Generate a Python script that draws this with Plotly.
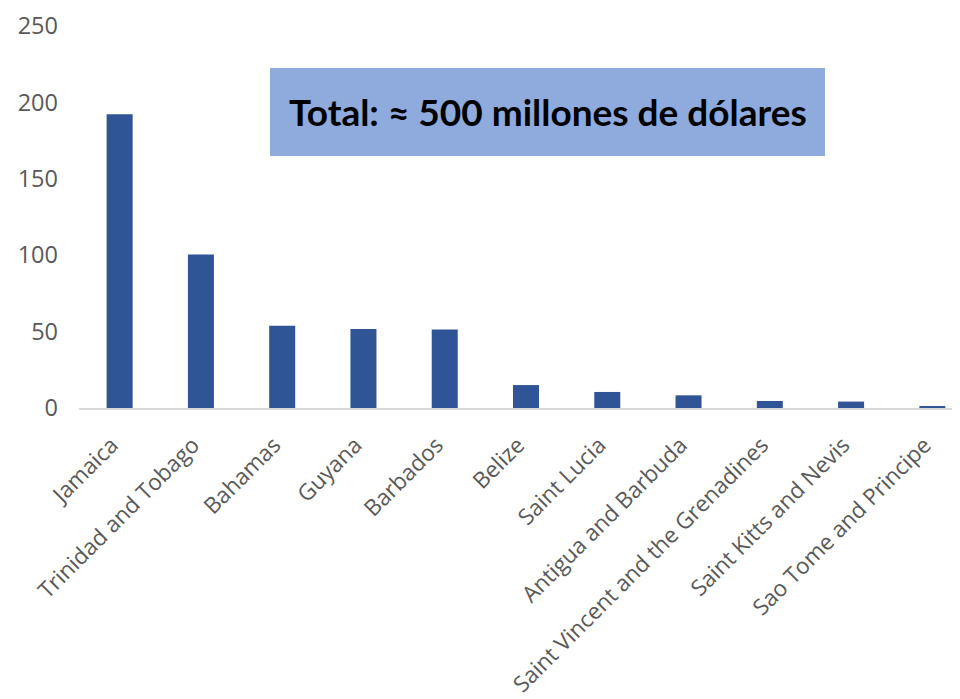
import plotly.graph_objects as go

countries = ["Jamaica", "Trinidad and Tobago", "Bahamas", "Guyana", "Barbados", "Belize",
             "Saint Lucia", "Antigua and Barbuda", "Saint Vincent and the Grenadines",
             "Saint Kitts and Nevis", "Sao Tome and Principe"]
values = [192.3, 100.4, 53.8, 51.7, 51.4, 15.0, 10.5, 8.3, 4.6, 4.2, 1.1]
y_ticks = [0, 50, 100, 150, 200, 250]
box_text = "Total: ≈ 500 millones de dólares"

# page body has 8px offset; compensate in margins
fig = go.Figure()
fig.add_trace(go.Bar(x=countries, y=values, marker=dict(color="#2f5597", line=dict(width=0)),
                     width=0.32))

fig.update_layout(
    width=960, height=699,
    margin=dict(l=71, r=8, t=18, b=299),
    paper_bgcolor="white", plot_bgcolor="white",
    showlegend=False,
    font=dict(family="Open Sans", color="#595959"),
    xaxis=dict(range=[-0.5, 10.34], tickangle=-45, showline=True, linecolor="#d9d9d9",
               linewidth=2, ticks="", showgrid=False, automargin=False,
               tickfont=dict(family="Open Sans", size=22.5, color="#595959"),
               ticklabelstandoff=13, ticklabelshift=-8),
    yaxis=dict(range=[0, 250], tickvals=y_ticks, showgrid=False, zeroline=False, showline=False,
               automargin=False,
               tickfont=dict(family="Open Sans", size=23.5, color="#595959"), ticklabelstandoff=20),
)

fig.add_shape(type="rect", xref="paper", yref="paper",
              x0=(270 - 79) / 881, x1=(825 - 79) / 881,
              y0=(408 - 156) / 382, y1=(408 - 68) / 382,
              fillcolor="#8faadc", line=dict(width=0), layer="above")
fig.add_annotation(xref="paper", yref="paper", x=(548 - 79) / 881, y=(408 - 112) / 382,
                   text="<b>" + box_text + "</b>", showarrow=False,
                   font=dict(family="Lato", size=37, color="black"),
                   xanchor="center", yanchor="middle")

fig.write_html("out.html")
